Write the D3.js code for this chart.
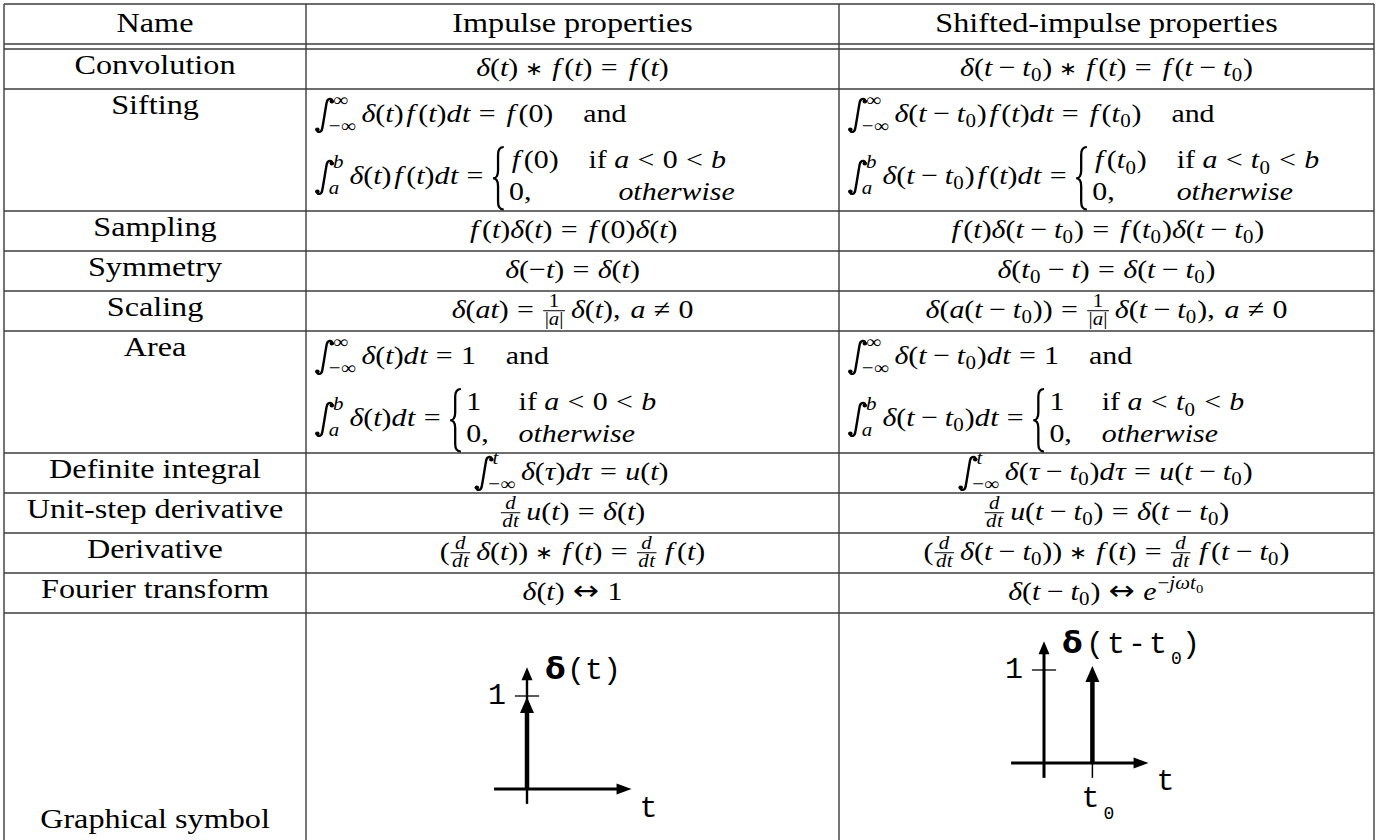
<!DOCTYPE html>
<html>
<head>
<meta charset="utf-8">
<script src="https://cdn.jsdelivr.net/npm/d3@7"></script>
<style>
  html, body { margin: 0; padding: 0; background: #fff; }
  svg { display: block; }
</style>
</head>
<body>
<div id="chart"></div>
<script>
// ---- table content ----
var headers = ["Name", "Impulse properties", "Shifted-impulse properties"];
var names = ["Convolution", "Sifting", "Sampling", "Symmetry", "Scaling", "Area",
             "Definite integral", "Unit-step derivative", "Derivative", "Fourier transform",
             "Graphical symbol"];
// formulas, written in a small TeX-like notation (two-line cells are arrays)
var impulseProps = [
  "δ(t) ∗ f(t) = f(t)",
  ["\\int_{−∞}^{∞} δ(t)f(t)dt = f(0) \\quad \\text{and}",
   "\\int_a^b δ(t)f(t)dt = \\cases{f(0) & \\text{if }a < 0 < b \\\\ 0, & \\quad otherwise}"],
  "f(t)δ(t) = f(0)δ(t)",
  "δ(−t) = δ(t)",
  "δ(at) = \\frac{1}{|a|}δ(t),~a ≠ 0",
  ["\\int_{−∞}^{∞} δ(t)dt = 1 \\quad \\text{and}",
   "\\int_a^b δ(t)dt = \\cases{1 & \\text{if }a < 0 < b \\\\ 0, & otherwise}"],
  "\\int_{−∞}^{t} δ(τ)dτ = u(t)",
  "\\frac{d}{dt}u(t) = δ(t)",
  "(\\frac{d}{dt}δ(t)) ∗ f(t) = \\frac{d}{dt}f(t)",
  "δ(t) ↔ 1"
];
var shiftedProps = [
  "δ(t − t_0) ∗ f(t) = f(t − t_0)",
  ["\\int_{−∞}^{∞} δ(t − t_0)f(t)dt = f(t_0) \\quad \\text{and}",
   "\\int_a^b δ(t − t_0)f(t)dt = \\cases{f(t_0) & \\text{if }a < t_0 < b \\\\ 0, & otherwise}"],
  "f(t)δ(t − t_0) = f(t_0)δ(t − t_0)",
  "δ(t_0 − t) = δ(t − t_0)",
  "δ(a(t − t_0)) = \\frac{1}{|a|}δ(t − t_0),~a ≠ 0",
  ["\\int_{−∞}^{∞} δ(t − t_0)dt = 1 \\quad \\text{and}",
   "\\int_a^b δ(t − t_0)dt = \\cases{1 & \\text{if }a < t_0 < b \\\\ 0, & otherwise}"],
  "\\int_{−∞}^{t} δ(τ − t_0)dτ = u(t − t_0)",
  "\\frac{d}{dt}u(t − t_0) = δ(t − t_0)",
  "(\\frac{d}{dt}δ(t − t_0)) ∗ f(t) = \\frac{d}{dt}f(t − t_0)",
  "δ(t − t_0) ↔ e^{−jωt_0}"
];
// graphical symbols: impulse positions (in units of t0) and strength
var impulseAt = [0];
var shiftedAt = [1];
var impulseArea = 1;

// ---- layout ----
var W = 1380, H = 840;
var colX = [4, 306, 839, 1374];
var headTop = 4, headBot = 44, bodyTop = 49;
var SINGLE = 40, DOUBLE = 122;
var FS = 26, TFS = 28, SX = 1.15;
var SERIF = "'Liberation Serif','DejaVu Serif',serif";
var SYM = "'DejaVu Sans',sans-serif";
var MONO = "'Liberation Mono','DejaVu Sans Mono',monospace";
var LINE = "#3c3c3c";

var svg = d3.select("#chart").append("svg").attr("width", W).attr("height", H);
var measurer = svg.append("text").attr("visibility", "hidden");

function measure(s, size, italic, family) {
  measurer.attr("font-family", family || SERIF).attr("font-size", size)
    .attr("font-style", italic ? "italic" : "normal").text(s);
  return measurer.node().getComputedTextLength();
}

// ---- tiny math layout ----
function glyph(s, size, italic, family, dy) {
  var lpad = 0, rpad = 0;
  if (italic && s === "f") { lpad = 0.09 * size; rpad = 0.12 * size; }
  if (italic && s === "d") { rpad = 0.02 * size; }
  var w = measure(s, size, italic, family) + lpad + rpad;
  return {w: w, draw: function(g, x, y) {
    g.append("text").attr("x", x + lpad).attr("y", y + (dy || 0))
      .attr("font-family", family || null)
      .attr("font-size", size).attr("font-style", italic ? "italic" : null).text(s);
  }};
}

function space(w) { return {w: w, draw: function() {}}; }

function integral(size) {
  var s = size * 1.08;
  return {w: 0.46 * s, draw: function(g, x, y) {
    var p = d3.path();
    p.moveTo(x + 0.47 * s, y - 0.74 * s);
    p.bezierCurveTo(x + 0.47 * s, y - 0.86 * s, x + 0.33 * s, y - 0.86 * s, x + 0.30 * s, y - 0.70 * s);
    p.bezierCurveTo(x + 0.26 * s, y - 0.46 * s, x + 0.20 * s, y + 0.02 * s, x + 0.16 * s, y + 0.24 * s);
    p.bezierCurveTo(x + 0.13 * s, y + 0.4 * s, x + 0.0 * s, y + 0.38 * s, x + 0.0 * s, y + 0.28 * s);
    g.append("path").attr("d", p.toString()).attr("fill", "none")
      .attr("stroke", "#000").attr("stroke-width", 2.1);
    g.append("circle").attr("cx", x + 0.46 * s).attr("cy", y - 0.73 * s).attr("r", 2);
    g.append("circle").attr("cx", x + 0.01 * s).attr("cy", y + 0.27 * s).attr("r", 2);
  }};
}

function scripted(base, sub, sup, size, isOp) {
  var ss = size * 0.7;
  var sb = sub != null ? parse(sub, ss, true) : null;
  var sp = sup != null ? parse(sup, ss, true) : null;
  var subDx = isOp ? -0.1 * size : 0.01 * size;
  var subDy = isOp ? 0.38 * size : 0.2 * size;
  var supDy = isOp ? -0.6 * size : -0.42 * size;
  var supDx = isOp ? 0.04 * size : 0.03 * size;
  var w = base.w + Math.max(sb ? sb.w + subDx : 0, sp ? sp.w + supDx : 0) + 0.03 * size;
  return {w: w, draw: function(g, x, y) {
    base.draw(g, x, y);
    if (sb) sb.draw(g, x + base.w + subDx, y + subDy);
    if (sp) sp.draw(g, x + base.w + supDx, y + supDy);
  }};
}

function frac(n, d, size) {
  var ss = size * 0.7;
  var nb = parse(n, ss, true), db = parse(d, ss, true);
  var inner = Math.max(nb.w, db.w), pad = 0.08 * size, w = inner + 2 * pad;
  return {w: w, draw: function(g, x, y) {
    var axis = y - 0.28 * size;
    nb.draw(g, x + pad + (inner - nb.w) / 2, axis - 0.16 * size);
    db.draw(g, x + pad + (inner - db.w) / 2, axis + 0.53 * size);
    g.append("line").attr("x1", x + pad * 0.4).attr("x2", x + w - pad * 0.4)
      .attr("y1", axis).attr("y2", axis).attr("stroke", "#000").attr("stroke-width", 1);
  }};
}

function cases(body, size) {
  var rows = body.split("\\\\").map(function(r) {
    return r.split("&").map(function(c) { return parse(c.trim(), size, false); });
  });
  var c1 = d3.max(rows, function(r) { return r[0].w; });
  var bw = 0.44 * size, gap1 = 0.14 * size, colSep = 1.0 * size;
  var w = bw + gap1 + c1 + colSep + d3.max(rows, function(r) { return r[1] ? r[1].w : 0; });
  return {w: w, draw: function(g, x, y) {
    var top = y - 1.42 * size, bot = y + 0.98 * size, mid = (top + bot) / 2;
    var x0 = x + 0.04 * size, xm = x + 0.21 * size, x1 = x + 0.4 * size, r = 0.3 * size;
    var p = d3.path();
    p.moveTo(x1, top);
    p.quadraticCurveTo(xm, top, xm, top + r);
    p.lineTo(xm, mid - r);
    p.quadraticCurveTo(xm, mid, x0, mid);
    p.quadraticCurveTo(xm, mid, xm, mid + r);
    p.lineTo(xm, bot - r);
    p.quadraticCurveTo(xm, bot, x1, bot);
    g.append("path").attr("d", p.toString()).attr("fill", "none")
      .attr("stroke", "#000").attr("stroke-width", 2);
    rows.forEach(function(rw, k) {
      var by = y + (k === 0 ? -0.6 : 0.6) * size;
      rw[0].draw(g, x + bw + gap1, by);
      if (rw[1]) rw[1].draw(g, x + bw + gap1 + c1 + colSep, by);
    });
  }};
}

function spacing(a, b, script) {
  var thin = 3 / 18, med = 4 / 18, thick = 5 / 18;
  if (a === "space" || b === "space") return 0;
  if (script) return (a === "op" && b !== "punct") ? thin : 0;
  if (a === "rel" || b === "rel") {
    if (a === "rel" && b === "rel") return 0;
    if (a === "open" || b === "close" || b === "punct") return 0;
    return thick;
  }
  if (a === "bin" || b === "bin") return med;
  if (a === "punct") return thin;
  if (a === "op") return (b === "open" || b === "close" || b === "punct") ? 0 : thin;
  if (b === "op") return (a === "ord" || a === "close" || a === "inner") ? thin : 0;
  if (a === "inner" || b === "inner") return (a === "open" || b === "close" || b === "punct") ? 0 : thin;
  return 0;
}

function parse(s, size, script) {
  var atoms = [], i = 0;
  function readGroup() {
    while (s[i] === " ") i++;
    if (s[i] === "{") {
      var depth = 1, j = i + 1;
      while (depth) { if (s[j] === "{") depth++; else if (s[j] === "}") depth--; j++; }
      var r = s.slice(i + 1, j - 1); i = j; return r;
    }
    return s[i++];
  }
  while (i < s.length) {
    var c = s[i];
    if (c === " ") { i++; continue; }
    if (c === "\\") {
      var m = /^\\([a-zA-Z]+|.)/.exec(s.slice(i)); i += m[0].length;
      var cmd = m[1];
      if (cmd === "int") atoms.push({cls: "op", box: integral(size), op: true});
      else if (cmd === "frac") { var n = readGroup(), d = readGroup(); atoms.push({cls: "inner", box: frac(n, d, size)}); }
      else if (cmd === "text") atoms.push({cls: "ord", box: glyph(readGroup().replace(/ /g, "\u00a0"), size, false)});
      else if (cmd === "quad") atoms.push({cls: "space", box: space(size)});
      else if (cmd === "cases") atoms.push({cls: "inner", box: cases(readGroup(), size)});
      continue;
    }
    if (c === "~") { i++; atoms.push({cls: "space", box: space(0.33 * size)}); continue; }
    if (c === "_" || c === "^") {
      i++;
      var grp = readGroup(), last = atoms[atoms.length - 1];
      last[c === "_" ? "sub" : "sup"] = grp;
      continue;
    }
    i++;
    if (/[a-zA-Zδτω]/.test(c)) atoms.push({cls: "ord", box: glyph(c, size, true)});
    else if (c === "(") atoms.push({cls: "open", box: glyph(c, size, false)});
    else if (c === ")") atoms.push({cls: "close", box: glyph(c, size, false)});
    else if (c === ",") atoms.push({cls: "punct", box: glyph(c, size, false)});
    else if (c === "↔") atoms.push({cls: "rel", box: glyph(c, size * 1.05, false, SYM)});
    else if (/[=<≠]/.test(c)) atoms.push({cls: "rel", box: glyph(c, size, false)});
    else if (c === "∗") atoms.push({cls: "bin", box: glyph(c, size * 0.72, false, SYM, -0.05 * size)});
    else if (c === "−") atoms.push({cls: "bin", box: glyph(c, size, false)});
    else atoms.push({cls: "ord", box: glyph(c, size, false)});
  }
  atoms.forEach(function(a) {
    if (a.sub != null || a.sup != null) a.box = scripted(a.box, a.sub, a.sup, size, !!a.op);
  });
  atoms.forEach(function(a, k) {
    if (a.cls !== "bin") return;
    var p = k > 0 ? atoms[k - 1] : null;
    if (!p || /bin|rel|open|punct|op/.test(p.cls)) a.cls = "ord";
  });
  var x = 0, prev = null;
  atoms.forEach(function(a) {
    if (prev) x += spacing(prev.cls, a.cls, script) * size;
    a.x = x; x += a.box.w; prev = a;
  });
  return {w: x, draw: function(g, x0, y) {
    atoms.forEach(function(a) { a.box.draw(g, x0 + a.x, y); });
  }};
}

function placeFormula(src, xs, yBase, align) {
  var b = parse(src, FS, false);
  var x = align === "middle" ? xs - b.w * SX / 2 : xs;
  var g = svg.append("g").attr("font-family", SERIF)
    .attr("transform", "translate(" + x + "," + yBase + ") scale(" + SX + ",1)");
  b.draw(g, 0, 0);
}

function placeText(s, xc, yBase) {
  svg.append("g").attr("transform", "translate(" + xc + "," + yBase + ") scale(" + SX + ",1)")
    .append("text").attr("text-anchor", "middle").attr("font-family", SERIF)
    .attr("font-size", TFS).text(s);
}

// ---- rows ----
var rowH = names.map(function(n, k) {
  if (k === names.length - 1) return H + 10 - bodyTop;
  return Array.isArray(impulseProps[k]) ? DOUBLE : SINGLE;
});
var rowTop = [bodyTop];
d3.cumsum(rowH).forEach(function(v) { rowTop.push(bodyTop + v); });

// grid lines
var grid = svg.append("g").attr("stroke", LINE).attr("stroke-width", 1.4);
[headTop, headBot].concat(rowTop.slice(0, names.length)).forEach(function(y) {
  grid.append("line").attr("x1", colX[0]).attr("x2", colX[3]).attr("y1", y).attr("y2", y);
});
colX.forEach(function(x) {
  grid.append("line").attr("x1", x).attr("x2", x).attr("y1", headTop).attr("y2", H + 5);
});

var colMid = [0, 1, 2].map(function(k) { return (colX[k] + colX[k + 1]) / 2; });

// header
headers.forEach(function(h, k) { placeText(h, colMid[k], headTop + 28); });

// body
names.forEach(function(n, k) {
  var top = rowTop[k];
  if (k === names.length - 1) placeText(n, colMid[0], 828);
  else placeText(n, colMid[0], top + 25);
  if (k >= impulseProps.length) return;
  [impulseProps[k], shiftedProps[k]].forEach(function(f, c) {
    if (Array.isArray(f)) {
      placeFormula(f[0], colX[c + 1] + 11, top + 33, "start");
      placeFormula(f[1], colX[c + 1] + 11, top + 95, "start");
    } else {
      placeFormula(f, colMid[c + 1], top + 27, "middle");
    }
  });
});

// ---- graphical symbols ----
function arrow(g, x1, y1, x2, y2, sw, L, hw) {
  var a = Math.atan2(y2 - y1, x2 - x1), ux = Math.cos(a), uy = Math.sin(a);
  var bx = x2 - ux * L, by = y2 - uy * L;
  g.append("line").attr("x1", x1).attr("y1", y1).attr("x2", bx + ux).attr("y2", by + uy)
    .attr("stroke", "#000").attr("stroke-width", sw);
  g.append("path").attr("fill", "#000")
    .attr("d", d3.line()([[x2, y2], [bx - uy * hw, by + ux * hw], [bx + uy * hw, by - ux * hw]]) + "Z");
}

var panels = [
  {ox: 527, oy: 789, imp: impulseAt, axisW: 2.4, label: "(t", shifted: false},
  {ox: 1044, oy: 763, imp: shiftedAt, axisW: 3, label: "(t-t", shifted: true}
];
panels.forEach(function(p) {
  var x = d3.scaleLinear().domain([0, 1]).range([p.ox, p.ox + 48.4]);
  var y = d3.scaleLinear().domain([0, 1]).range([p.oy, p.oy - 93]);
  var g = svg.append("g");
  // t axis
  arrow(g, x(-0.68), y(0), x(2.16), y(0), 3, 15, 5.5);
  // amplitude axis
  arrow(g, x(0), y(-0.16), x(0), y(1.31), p.axisW, 13, 5.5);
  // tick at 1
  g.append("line").attr("x1", x(-0.25)).attr("x2", x(0.25)).attr("y1", y(impulseArea)).attr("y2", y(impulseArea))
    .attr("stroke", "#000").attr("stroke-width", 1.3);
  // impulses
  p.imp.forEach(function(t) {
    if (t !== 0) {
      g.append("line").attr("x1", x(t)).attr("x2", x(t)).attr("y1", y(0)).attr("y2", y(-0.16))
        .attr("stroke", "#000").attr("stroke-width", 1.5);
    }
    arrow(g, x(t), y(0), x(t), y(impulseArea) - (t ? 4 : -1), 4.5, 16, 7);
  });
  // labels
  g.append("text").attr("x", x(0) - 21).attr("y", y(impulseArea) + 8).attr("text-anchor", "end")
    .attr("font-family", MONO).attr("font-size", 30).text("1");
  g.append("text").attr("x", x(2.16) + 8).attr("y", y(0) + (p.shifted ? 27 : 28))
    .attr("font-family", MONO).attr("font-size", 30).text("t");
  g.append("text").attr("x", x(0) + 18).attr("y", y(0) - 110)
    .attr("font-family", SYM).attr("font-weight", "bold").attr("font-size", 30).text("δ");
  var lx = x(0) + (p.shifted ? 42 : 40), ls = p.shifted ? 3 : 0;
  g.append("text").attr("x", lx).attr("y", y(0) - 110).attr("letter-spacing", ls)
    .attr("font-family", MONO).attr("font-size", 30).text(p.label);
  var lw = measure(p.label, 30, false, MONO) + ls * p.label.length;
  if (p.shifted) {
    g.append("text").attr("x", lx + lw + 1).attr("y", y(0) - 99)
      .attr("font-family", MONO).attr("font-size", 18).text("0");
    g.append("text").attr("x", lx + lw + 12).attr("y", y(0) - 110)
      .attr("font-family", MONO).attr("font-size", 30).text(")");
    g.append("text").attr("x", x(p.imp[0]) - 11).attr("y", y(0) + 44)
      .attr("font-family", MONO).attr("font-size", 30).text("t");
    g.append("text").attr("x", x(p.imp[0]) + 11).attr("y", y(0) + 56)
      .attr("font-family", MONO).attr("font-size", 18).text("0");
  } else {
    g.append("text").attr("x", lx + lw).attr("y", y(0) - 110)
      .attr("font-family", MONO).attr("font-size", 30).text(")");
  }
});
</script>
</body>
</html>
